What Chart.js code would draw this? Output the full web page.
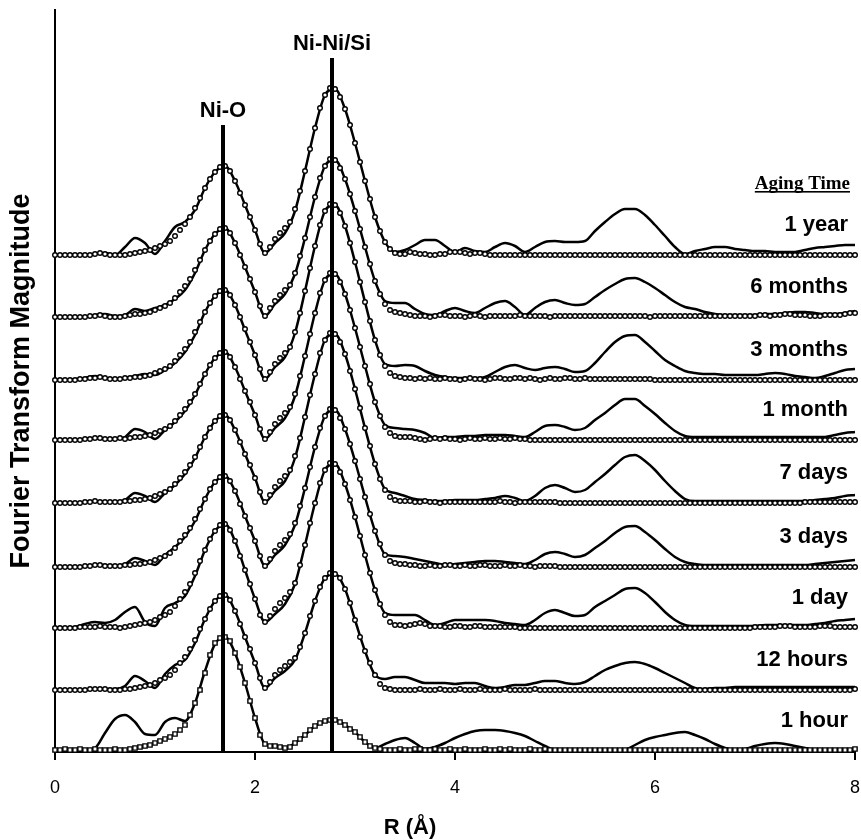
<!DOCTYPE html>
<html lang="en">
<head>
    <meta charset="UTF-8">
    <title>Fourier Transform Magnitude vs R</title>
    <style>
        body {
            margin: 0;
            background: #fff;
        }
        #wrap {
            width: 861px;
            height: 840px;
        }
    </style>
    <script src="https://cdn.jsdelivr.net/npm/chart.js"></script>
</head>
<body>
<div id="wrap"><canvas id="ftChart" width="861" height="840"></canvas></div>
<script>
    // R grid: fit curves sampled every 0.05 A, measured data every 0.1 A
    const fitStep = 0.05;
    const dataStep = 0.1;
    const xTicks = [0, 2, 4, 6, 8];

    const agingLabels = ['1 year', '6 months', '3 months', '1 month', '7 days', '3 days', '1 day', '12 hours', '1 hour'];
    // vertical offset of each stacked spectrum
    const baseOffsets = [497, 435, 372, 312, 249, 185, 124, 62, 1];

    // coordination shells marked with vertical lines
    const shellNames = ['Ni-O', 'Ni-Ni/Si'];
    const shellR = [1.68, 2.77];
    const shellTop = [627, 694];

    // fits (open symbols), 20 values per angstrom
    const fit1Year = [
        0,0,0,0,0,0,0,0,1,2,1,0,0,0,0,1,2,3,4,5,
        7,9,11,14,19,25,31,38,47,57,67,76,83,88,89,84,74,62,50,38,
        25,11,2,8,16,22,27,33,46,64,84,106,127,147,160,167,166,158,146,130,
        112,93,74,56,38,24,13,6,2,1,1,3,2,1,1,0,0,1,1,3,
        3,3,2,1,2,2,1,0,0,0,0,0,0,0,0,0,0,0,0,0,
        0,0,0,0,0,0,0,0,0,0,0,0,0,0,0,0,0,0,0,0,
        0,0,0,0,0,0,0,0,0,0,0,0,0,0,0,0,0,0,0,0,
        0,0,0,0,0,0,0,0,0,0,0,0,0,0,0,0,0,0,0,0,
        0
    ];
    const fit6Months = [
        0,0,0,0,0,0,0,1,1,2,1,0,0,0,1,2,3,3,4,5,
        7,9,11,14,19,25,31,38,47,57,67,76,83,88,89,84,74,62,50,38,
        25,11,1,9,16,22,27,32,44,61,79,100,120,139,151,158,157,149,138,123,
        106,88,70,53,36,23,13,7,5,4,3,2,1,1,1,0,1,2,2,1,
        1,1,0,1,2,1,0,1,1,1,1,1,1,2,1,1,1,1,1,0,
        1,1,1,1,1,1,1,1,1,1,1,1,1,1,1,1,1,1,1,0,
        1,1,1,1,1,1,1,1,1,1,1,1,1,1,1,1,1,1,1,1,
        1,2,2,1,2,2,3,3,2,2,2,1,1,1,2,2,2,2,3,4,
        4
    ];
    const fit3Months = [
        0,0,0,0,0,1,1,2,2,3,2,1,1,1,2,2,3,3,4,5,
        7,9,11,14,19,25,31,38,48,58,68,77,84,89,90,85,75,63,51,38,
        25,11,1,8,16,22,27,33,48,67,89,112,134,155,169,176,175,167,154,137,
        118,98,78,59,40,25,14,7,4,3,2,2,1,2,1,2,1,1,2,1,
        1,0,1,2,1,1,0,1,2,2,1,1,2,2,1,2,1,0,1,2,
        1,1,2,2,1,1,2,1,1,1,1,1,1,1,1,1,1,1,1,1,
        0,0,0,0,0,0,0,0,0,0,0,0,0,0,0,0,0,0,0,0,
        0,0,0,0,0,0,0,0,0,0,0,0,0,0,0,0,0,0,0,0,
        0
    ];
    const fit1Month = [
        0,0,0,0,0,0,1,1,2,2,1,1,1,2,1,2,3,3,4,5,
        7,9,11,14,19,25,31,38,46,56,66,75,82,87,88,83,73,61,49,38,
        25,11,1,8,16,22,27,33,46,64,84,106,127,147,160,167,166,158,146,130,
        112,93,74,56,38,24,13,7,4,3,3,3,2,1,0,1,2,1,2,1,
        1,0,1,2,1,1,2,1,1,2,1,1,2,1,1,0,0,0,0,0,
        0,0,0,0,0,0,0,0,0,0,0,0,0,0,0,0,0,0,0,0,
        0,0,0,0,0,0,0,0,0,0,0,0,0,0,0,0,0,0,0,0,
        0,0,0,0,0,0,0,0,0,0,0,0,0,0,0,0,0,0,0,0,
        0
    ];
    const fit7Days = [
        0,0,0,0,0,0,1,1,2,1,1,1,1,1,2,2,3,3,4,5,
        7,9,11,14,19,25,31,38,46,56,66,75,82,87,88,83,73,61,49,38,
        25,11,1,8,16,22,27,33,47,65,86,108,129,150,163,170,169,161,149,132,
        114,95,75,57,39,24,13,6,3,2,2,2,1,1,2,1,1,0,1,1,
        1,1,1,1,1,1,1,1,1,2,1,1,0,1,1,1,1,1,1,1,
        1,0,0,0,0,0,0,0,0,0,0,0,0,0,0,0,0,0,0,0,
        0,0,0,0,0,0,0,0,0,0,0,0,0,0,0,0,0,0,0,0,
        0,0,0,0,0,0,0,0,0,0,1,1,1,1,1,1,1,1,1,1,
        1
    ];
    const fit3Days = [
        0,0,0,0,0,0,1,1,2,2,1,1,1,1,2,2,3,3,4,5,
        7,9,11,14,19,26,32,39,48,58,68,78,85,90,91,86,76,63,51,39,
        26,11,1,8,16,22,27,33,44,61,79,100,120,139,151,158,157,149,138,123,
        106,88,70,53,36,23,12,6,4,3,3,2,2,1,1,2,1,1,2,2,
        1,1,2,1,1,2,2,1,1,1,2,1,1,2,1,1,0,1,1,1,
        1,0,0,0,0,0,0,0,0,0,0,0,0,0,0,0,0,0,0,0,
        0,0,0,0,0,0,0,0,0,0,0,0,0,0,0,0,0,0,0,0,
        0,0,0,0,0,0,0,0,0,0,0,0,0,0,0,0,0,0,0,0,
        0
    ];
    const fit1Day = [
        0,0,0,0,0,1,1,1,1,2,1,1,1,0,1,2,3,4,5,6,
        8,11,13,16,22,29,36,44,55,67,78,89,97,103,104,98,87,72,58,44,
        29,13,6,12,19,25,30,36,45,63,83,105,125,145,158,165,164,156,144,128,
        111,92,73,55,38,24,13,6,3,3,2,3,4,5,4,2,2,2,1,1,
        2,2,1,1,2,2,1,1,1,1,1,1,1,0,0,0,0,0,0,0,
        0,0,0,0,0,0,0,0,0,0,0,0,0,0,0,0,0,0,0,0,
        0,0,0,0,0,0,0,0,0,0,0,0,0,0,0,0,0,0,0,0,
        1,1,1,1,1,2,2,2,1,1,1,1,1,2,2,2,1,1,1,1,
        1
    ];
    const fit12Hours = [
        0,0,0,0,0,0,0,1,1,1,1,0,0,0,1,1,2,3,4,5,
        7,10,12,15,20,27,33,41,50,61,71,81,89,94,95,90,79,66,53,41,
        27,12,2,8,15,20,24,28,32,43,57,74,89,103,112,117,116,112,101,87,
        70,53,39,27,15,6,2,1,0,0,0,0,0,1,0,0,0,1,0,0,
        0,1,0,0,0,1,0,0,0,0,1,0,0,0,0,0,1,0,0,0,
        0,0,0,0,0,0,0,0,0,0,0,0,0,0,0,0,0,0,0,0,
        0,0,0,0,0,0,0,0,0,0,0,0,0,0,0,0,0,0,0,0,
        0,0,0,0,0,0,0,0,0,0,0,0,0,0,0,0,0,0,0,0,
        1
    ];
    const fit1Hour = [
        1,1,2,1,1,2,1,1,2,1,1,1,2,1,1,2,3,4,5,6,
        8,10,12,14,17,21,26,36,48,61,78,96,108,113,114,110,98,84,68,50,
        33,16,7,5,5,4,3,4,8,12,16,21,25,28,30,31,31,29,26,22,
        19,14,9,5,3,2,1,1,1,2,1,1,2,2,1,1,2,1,1,2,
        1,1,2,1,1,1,2,1,1,2,1,2,1,1,1,2,1,1,2,1,
        1,1,1,1,1,1,1,1,1,1,1,1,1,1,1,1,1,1,1,1,
        1,1,1,1,1,1,1,1,1,1,1,1,1,1,1,1,1,1,1,1,
        1,1,1,1,1,1,1,1,1,1,1,1,1,1,1,1,1,1,1,1,
        2
    ];

    // measured spectra (solid lines), 10 values per angstrom
    const data1Year = [
        0,0,0,0,1,2,0,8,17,12,
        1,14,28,33,45,67,83,89,74,50,
        25,2,12,22,44,84,127,160,166,146,
        112,74,38,13,3,5,10,15,15,9,
        3,7,4,3,8,12,9,3,8,13,
        14,13,13,14,24,33,41,46,46,40,
        30,19,8,1,4,6,8,8,6,5,
        4,4,3,3,3,5,7,8,9,10,
        10
    ];
    const data6Months = [
        0,0,0,0,2,3,1,2,8,6,
        9,12,18,27,44,67,83,89,74,50,
        25,1,13,23,43,79,120,151,157,138,
        106,70,36,16,14,14,8,3,2,6,
        9,6,4,9,14,16,10,2,9,15,
        17,14,12,13,20,27,33,38,39,35,
        29,22,15,10,8,5,3,2,2,2,
        2,3,3,4,5,5,4,3,3,4,
        6
    ];
    const data3Months = [
        0,0,1,2,4,2,1,2,4,6,
        5,10,17,28,45,68,84,90,75,50,
        25,1,13,23,47,89,134,169,175,154,
        118,78,40,16,14,15,14,9,5,3,
        2,2,2,3,8,13,15,12,10,12,
        13,11,8,9,17,28,38,44,45,38,
        29,20,14,9,7,6,6,5,5,5,
        5,6,7,6,4,3,2,4,7,10,
        11
    ];
    const data1Month = [
        0,0,0,1,2,1,1,3,11,8,
        1,10,18,29,45,66,82,88,73,49,
        25,1,12,22,44,84,127,160,166,146,
        112,74,38,15,12,11,10,7,2,3,
        3,4,4,5,5,5,4,3,8,14,
        15,13,10,12,20,27,35,41,41,34,
        26,17,9,4,3,3,3,3,3,3,
        3,3,3,3,3,3,3,3,5,7,
        8
    ];
    const data7Days = [
        0,0,0,1,2,1,1,3,10,7,
        1,10,18,29,45,66,82,88,73,49,
        25,1,12,22,45,86,129,163,169,149,
        114,75,39,14,10,7,4,3,2,2,
        3,3,3,4,5,7,5,2,7,15,
        18,15,11,13,21,29,38,46,48,42,
        33,22,12,4,2,2,2,2,2,2,
        2,2,2,2,2,2,3,4,5,7,
        8
    ];
    const data3Days = [
        0,0,0,1,2,2,1,3,9,6,
        2,12,20,30,46,68,85,91,76,51,
        26,1,12,22,42,79,120,151,157,138,
        106,70,36,13,11,10,8,6,4,2,
        3,4,5,6,6,5,4,3,7,13,
        15,13,10,12,19,26,34,40,41,35,
        27,18,10,5,3,2,2,2,2,2,
        2,2,2,2,2,2,3,4,5,6,
        7
    ];
    const data1Day = [
        0,0,1,4,6,5,8,16,21,6,
        2,20,25,32,52,78,97,104,87,58,
        29,6,14,24,44,83,125,158,164,144,
        111,73,38,15,13,13,13,8,3,5,
        8,8,8,8,7,5,4,3,8,15,
        18,15,12,13,21,27,33,39,40,35,
        26,16,8,3,2,2,2,2,2,2,
        2,3,3,3,3,3,4,5,7,8,
        9
    ];
    const data12Hours = [
        0,0,0,0,1,1,1,4,14,9,
        2,16,25,30,47,71,89,95,79,53,
        27,2,12,19,30,57,89,112,116,101,
        70,39,15,11,13,13,10,7,7,7,
        6,7,7,4,2,3,5,5,7,9,
        9,7,6,8,14,20,24,27,28,26,
        22,17,12,7,2,1,2,2,3,3,
        3,3,3,3,3,3,3,3,3,3,
        3
    ];
    const data1Hour = [
        1,1,1,1,3,18,32,36,29,17,
        16,29,33,30,48,80,107,114,98,68,
        33,7,5,3,8,16,25,30,31,26,
        19,9,3,7,11,13,8,2,4,8,
        13,17,20,21,21,20,18,15,10,5,
        1,1,1,1,1,1,0,1,6,11,
        14,16,18,19,16,12,7,3,1,2,
        5,7,8,7,5,3,1,1,1,1,
        2
    ];

    const fitSeries = [fit1Year, fit6Months, fit3Months, fit1Month, fit7Days, fit3Days, fit1Day, fit12Hours, fit1Hour];
    const dataSeries = [data1Year, data6Months, data3Months, data1Month, data7Days, data3Days, data1Day, data12Hours, data1Hour];

    const sans = '"Liberation Sans", Arial, sans-serif';

    const datasets = [];
    agingLabels.forEach((label, k) => {
        datasets.push({
            label: label + ' data',
            data: dataSeries[k].map((v, i) => ({x: i * dataStep, y: baseOffsets[k] + v})),
            showLine: true,
            borderColor: '#000',
            borderWidth: 2.5,
            pointRadius: 0,
            cubicInterpolationMode: 'monotone',
            clip: false,
            order: 2
        });
        datasets.push({
            label: label + ' fit',
            data: fitSeries[k].map((v, i) => ({x: i * fitStep, y: baseOffsets[k] + v})),
            showLine: false,
            pointStyle: k === agingLabels.length - 1 ? 'rect' : 'circle',
            pointRadius: k === agingLabels.length - 1 ? 3 : 2.3,
            pointBorderWidth: 1.4,
            pointBorderColor: '#000',
            pointBackgroundColor: '#fff',
            clip: false,
            order: 1
        });
    });
    shellR.forEach((r, i) => {
        datasets.push({
            label: shellNames[i],
            data: [{x: r, y: 0}, {x: r, y: shellTop[i]}],
            showLine: true,
            borderColor: '#000',
            borderWidth: 4,
            pointRadius: 0,
            order: 0
        });
    });

    // text that sits inside the plot: shell names, sample labels, axis title
    const annotate = {
        id: 'annotate',
        afterDatasetsDraw(chart) {
            const {ctx, scales: {x, y}} = chart;
            ctx.save();
            ctx.fillStyle = '#000';

            ctx.font = 'bold 22px ' + sans;
            ctx.textAlign = 'center';
            ctx.textBaseline = 'alphabetic';
            shellNames.forEach((name, i) => {
                ctx.fillText(name, x.getPixelForValue(shellR[i]), y.getPixelForValue(shellTop[i]) - 8);
            });

            ctx.textAlign = 'right';
            ctx.textBaseline = 'middle';
            agingLabels.forEach((lab, i) => {
                ctx.fillText(lab, x.right - 7, y.getPixelForValue(baseOffsets[i]) - 30);
            });

            ctx.font = 'bold 19px "Liberation Serif", "Times New Roman", serif';
            ctx.textBaseline = 'alphabetic';
            const hx = x.right - 5;
            const hy = 189;
            ctx.fillText('Aging Time', hx, hy);
            const w = ctx.measureText('Aging Time').width;
            ctx.fillRect(hx - w, hy + 2, w, 1.6);

            ctx.font = 'bold 22px ' + sans;
            ctx.textAlign = 'center';
            ctx.fillText('R (\u00C5)', 410, 834);
            ctx.restore();
        }
    };

    new Chart(document.getElementById('ftChart'), {
        type: 'scatter',
        data: {datasets},
        options: {
            responsive: false,
            animation: false,
            layout: {padding: {top: 10, right: 6, left: 0, bottom: 0}},
            plugins: {
                legend: {display: false},
                tooltip: {enabled: false}
            },
            scales: {
                x: {
                    type: 'linear',
                    min: 0,
                    max: 8,
                    afterBuildTicks: (scale) => {
                        scale.ticks = xTicks.map(v => ({value: v}));
                    },
                    ticks: {
                        color: '#000',
                        font: {family: sans, size: 18},
                        padding: 17,
                        maxRotation: 0
                    },
                    grid: {
                        drawOnChartArea: false,
                        drawTicks: true,
                        tickLength: 8,
                        color: '#000',
                        lineWidth: 2
                    },
                    border: {color: '#000', width: 2},
                    afterFit: (scale) => {
                        scale.height = 88;
                        scale.paddingLeft = 0;
                        scale.paddingRight = 0;
                    }
                },
                y: {
                    type: 'linear',
                    min: 0,
                    max: 742,
                    ticks: {display: false},
                    grid: {display: false},
                    border: {color: '#000', width: 2},
                    title: {
                        display: true,
                        text: 'Fourier Transform Magnitude',
                        color: '#000',
                        font: {family: sans, size: 27, weight: 'bold'},
                        padding: {top: 5, bottom: 0}
                    },
                    afterFit: (scale) => {
                        scale.width = 55;
                    }
                }
            }
        },
        plugins: [annotate]
    });
</script>
</body>
</html>
